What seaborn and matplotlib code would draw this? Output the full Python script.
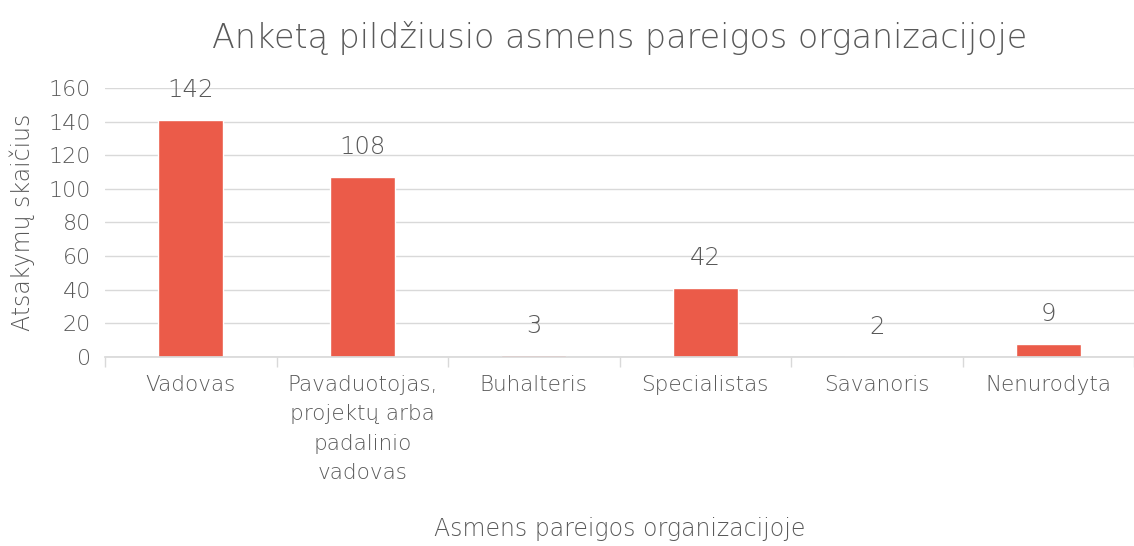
import matplotlib
matplotlib.use("Agg")
import matplotlib.pyplot as plt
import seaborn as sns
import pandas as pd
import numpy as np

# category labels, printed values and bar heights
categories = ["Vadovas", "Pavaduotojas,\nprojektų arba\npadalinio\nvadovas",
              "Buhalteris", "Specialistas", "Savanoris", "Nenurodyta"]
label_values = [142, 108, 3, 42, 2, 9]
bar_heights = [141, 107, 1, 41, 0, 8]

df = pd.DataFrame({"cat": categories, "h": bar_heights})

sns.set_theme(style="white")
plt.rcParams['font.family'] = ['DejaVu Sans']
plt.rcParams['font.weight'] = 200
grey = "#595959"

fig = plt.figure(figsize=(11.34, 5.46), dpi=100)
ax = fig.add_axes([0.0926, 0.346, 0.9074, 0.493])

sns.barplot(data=df, x="cat", y="h", color="#EB5B49", saturation=1, width=0.38, ax=ax)

for i, v in enumerate(label_values):
    ax.text(i, bar_heights[i] + 10.5, str(v), ha="center", va="bottom", fontsize=17.5,
            color=grey, fontweight=200)

ax.set_ylim(0, 160)
ax.set_yticks(np.arange(0, 161, 20))
ax.yaxis.grid(True, color="#D9D9D9", linewidth=1)
ax.set_axisbelow(True)
for s in ["top", "right", "left"]:
    ax.spines[s].set_visible(False)
ax.spines["bottom"].set_color("#D9D9D9")
ax.set_xlim(-0.5, 5.5)
ax.set_xticks(np.arange(-0.5, 6, 1), minor=True)
ax.tick_params(axis="x", which="minor", length=7, color="#D9D9D9", width=1, bottom=True)
ax.tick_params(axis="x", which="major", length=0, pad=13, labelsize=15.5, labelcolor=grey)
ax.tick_params(axis="y", length=0, labelsize=16, labelcolor=grey, pad=10)
for lab in ax.get_xticklabels() + ax.get_yticklabels():
    lab.set_fontweight(200)
    lab.set_linespacing(1.58)
ax.set_xlabel("Asmens pareigos organizacijoje", fontsize=17, color=grey,
              fontweight=200, va="center")
ax.xaxis.set_label_coords(0.5, -0.638)
ax.set_ylabel("Atsakymų skaičius", fontsize=17, color=grey, labelpad=10, fontweight=200)
fig.suptitle("Anketą pildžiusio asmens pareigos organizacijoje", fontsize=24, color=grey,
             y=0.962, x=0.546, fontweight=200)

fig.savefig("out.png", dpi=100)
